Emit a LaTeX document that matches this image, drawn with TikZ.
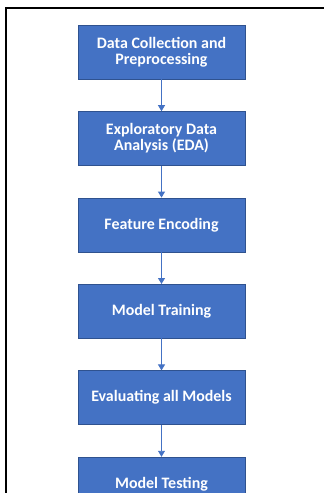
\documentclass[tikz,border=0pt]{standalone}
\usepackage{fontspec}
\setmainfont{Carlito}
\usetikzlibrary{positioning,arrows.meta}
\definecolor{boxblue}{HTML}{4472C4}
\definecolor{boxedge}{HTML}{2F528F}
\tikzset{
  stagebox/.style={draw=boxedge, fill=boxblue, text=white, font=\bfseries\fontsize{16}{16}\selectfont,
    minimum width=167bp, minimum height=54bp, align=center, inner sep=2pt},
  flow/.style={draw=boxblue, line width=0.9pt, -{Triangle[length=6pt,width=7pt]}}
}
\begin{document}
\begin{tikzpicture}[node distance=32bp]
            \useasboundingbox (0,0) rectangle (324bp,-493bp);
            \clip (0,0) rectangle (324bp,-493bp);
            \fill[white] (0,0) rectangle (324bp,-493bp);
            % frame
            \draw[line width=2.2pt] (6bp,-493bp) -- (6bp,-8bp) -- (324bp,-8bp);

            \node[stagebox] (collect) at (161.5bp,-52bp) {Data Collection and\\Preprocessing};
            \node[stagebox, below=of collect] (eda) {Exploratory Data\\Analysis (EDA)};
            \node[stagebox, below=of eda] (encode) {Feature Encoding};
            \node[stagebox, below=of encode] (train) {Model Training};
            \node[stagebox, below=of train] (evaluate) {Evaluating all Models};
            \node[stagebox, below=of evaluate] (test) {Model Testing};

            \draw[flow] (collect) -- (eda);
            \draw[flow] (eda) -- (encode);
            \draw[flow] (encode) -- (train);
            \draw[flow] (train) -- (evaluate);
            \draw[flow] (evaluate) -- (test);
        \end{tikzpicture}
\end{document}
